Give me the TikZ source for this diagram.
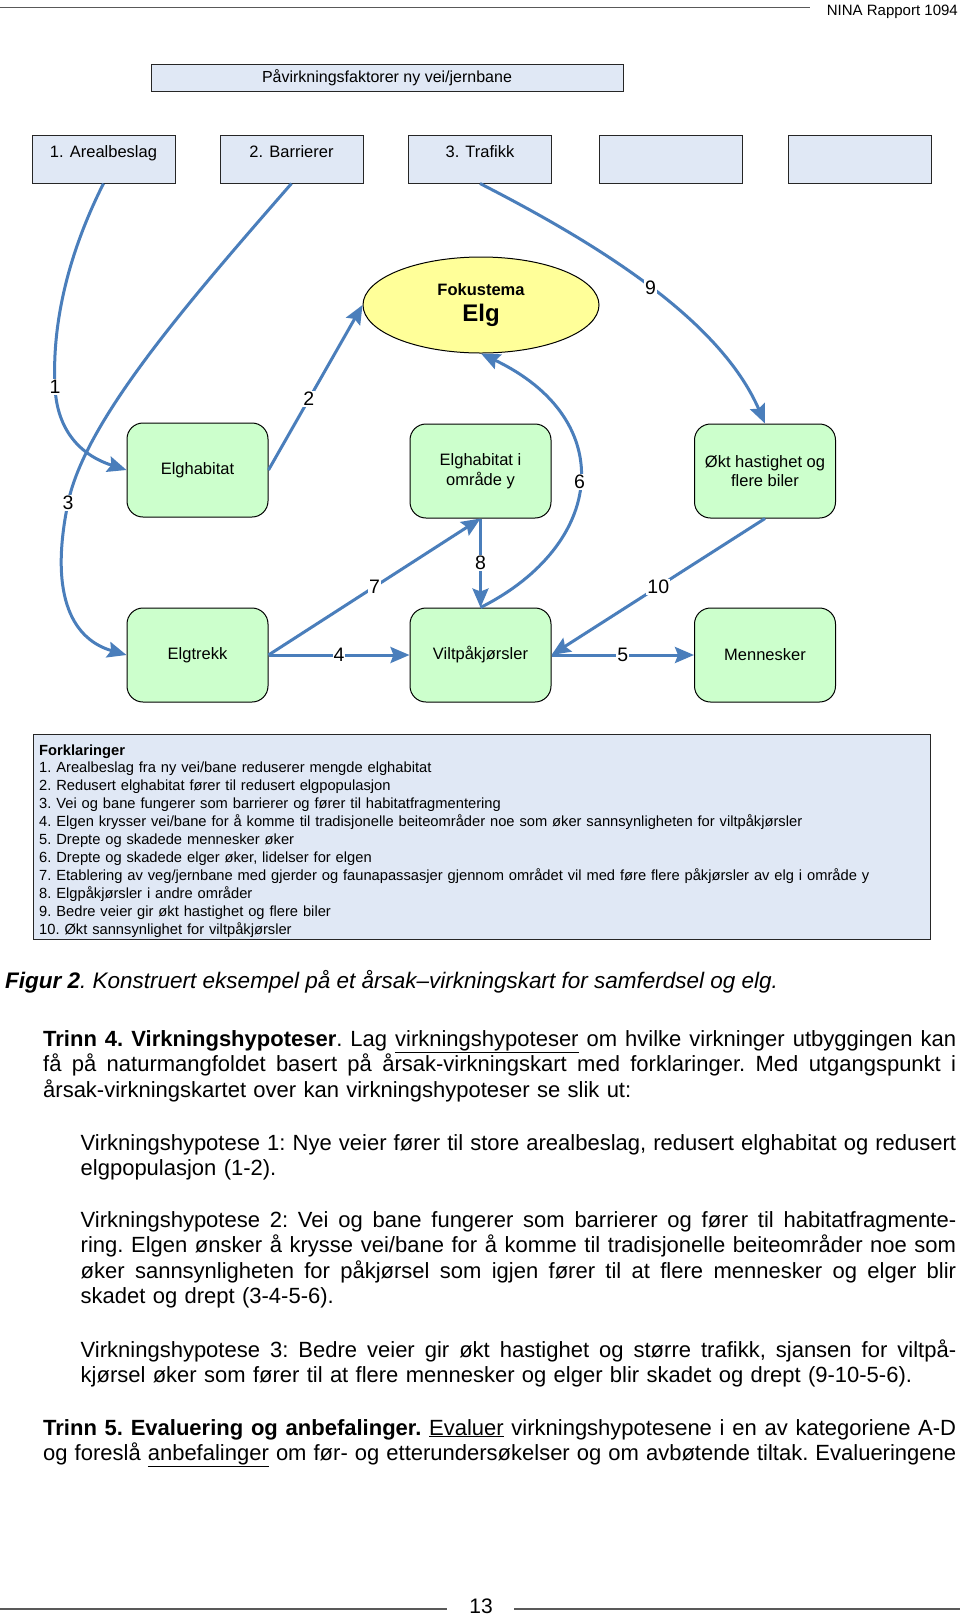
\documentclass[tikz,border=0pt]{standalone}
\usepackage{fontspec}
\setmainfont{Liberation Sans}
\usetikzlibrary{shapes.geometric,arrows.meta}

\definecolor{boxblue}{RGB}{224,232,245}
\definecolor{boxgreen}{RGB}{204,255,204}
\definecolor{boxyellow}{RGB}{255,255,153}
\definecolor{arrowblue}{RGB}{74,126,187}

\newcommand{\fs}[2]{\fontsize{#1}{#2}\selectfont}
\newcommand{\jl}[1]{\leavevmode\hbox to \hsize{\spaceskip=.28em plus .6em minus .12em\relax #1}}

\tikzset{
	topbox/.style={draw=black!85, line width=1pt, fill=boxblue, minimum width=143, minimum height=48, inner sep=0, text height=12pt, text depth=16pt, font=\fs{16.5}{19}},
	titlebox/.style={draw=black!85, line width=1pt, fill=boxblue, minimum width=472, minimum height=27, inner sep=0, font=\fs{16}{19}},
	effekt/.style={draw=black, line width=1pt, fill=boxgreen, rounded corners=16pt, minimum width=141, minimum height=94, inner sep=0, align=center, font=\fs{16.5}{19.5}},
	fokus/.style={draw=black, line width=1pt, fill=boxyellow, ellipse, minimum width=236, minimum height=96, inner sep=0, align=center, font=\fs{24}{26}\bfseries},
	legbox/.style={draw=black!85, line width=1pt, fill=boxblue, minimum width=897, minimum height=205, inner sep=0},
	pil/.style={draw=arrowblue, line width=3pt, -{Stealth[length=19pt,width=16pt,inset=3pt]}},
	elabel/.style={fill=white, inner sep=1pt, font=\fs{19.5}{19.5}},
	brod/.style={inner sep=0, align=left, font=\fs{22}{25.6}\frenchspacing},
	pagerule/.style={draw=black!65, line width=1.8pt},
}

\begin{document}
\begin{tikzpicture}[x=1pt,y=-1pt]
\useasboundingbox (0,0) rectangle (960,1618);
\fill[white] (0,0) rectangle (960,1618);

% topptekst
\node[anchor=base east, inner sep=0, font=\fs{15}{18}] (rapport) at (958,15) {NINA Rapport 1094};
\coordinate (hl) at (0,7.5);
\coordinate (hr) at (810,7.5);
\draw[pagerule] (hl) -- (hr);

% paavirkningsfaktorer
\node[titlebox] (faktorer) at (387,77.5) {Påvirkningsfaktorer ny vei/jernbane};
\node[topbox] (areal) at (103.5,159) {1. Arealbeslag};
\node[topbox] (barr) at (291.5,159) {2. Barrierer};
\node[topbox] (trafikk) at (480,159) {3. Trafikk};
\node[topbox] (tomfire) at (670.5,159) {};
\node[topbox] (tomfem) at (859.5,159) {};

% fokustema og effekter
\node[fokus] (elg) at (481,305) {{\fs{16.5}{20}Fokustema}\\Elg};
\node[effekt] (elghab) at (197.5,470) {Elghabitat};
\node[effekt] (elghaby) at (480.5,471) {Elghabitat i\\område y};
\node[effekt] (okt) at (765,471) {Økt hastighet og\\flere biler};
\node[effekt] (elgtrekk) at (197.5,655) {Elgtrekk};
\node[effekt] (vilt) at (480.5,655) {Viltpåkjørsler};
\node[effekt] (mennesker) at (765,655) {Mennesker};

% piler
\draw[pil] (areal.south) .. controls (65,260) and (52,330) .. (55,387) node[elabel] (lbl1) {1}
	.. controls (57,430) and (80,455) .. (elghab.west);
\draw[pil] (barr.south) .. controls (190,300) and (85,420) .. (68,503) node[elabel] (lbl3) {3}
	.. controls (48,600) and (75,640) .. (elgtrekk.west);
\draw[pil] (elghab.east) -- node[elabel, pos=0.43] (lbl2) {2} (elg.west);
\draw[pil] (elgtrekk.east) -- node[elabel] (lbl4) {4} (vilt.west);
\draw[pil] (vilt.east) -- node[elabel] (lbl5) {5} (mennesker.west);
\draw[pil] (vilt.north) .. controls (605,545) and (620,420) .. (elg.south) node[elabel, pos=0.5] (lbl6) {6};
\draw[pil] (elgtrekk.east) -- node[elabel] (lbl7) {7} (elghaby.south);
\draw[pil] (elghaby.south) -- node[elabel] (lbl8) {8} (vilt.north);
\draw[pil] (trafikk.south) .. controls (600,245) and (720,320) .. (okt.north) node[elabel, pos=0.5] (lbl9) {9};
\draw[pil] (okt.south) -- node[elabel] (lbl10) {10} (vilt.east);

% forklaringer
\node[legbox] (legend) at (481.5,836.5) {};
\node[anchor=base west, text width=885, align=left, inner sep=0, font=\fs{14.7}{17.9}\frenchspacing] (forkl) at (39,755) {\textbf{Forklaringer}\\
1. Arealbeslag fra ny vei/bane reduserer mengde elghabitat\\
2. Redusert elghabitat fører til redusert elgpopulasjon\\
3. Vei og bane fungerer som barrierer og fører til habitatfragmentering\\
4. Elgen krysser vei/bane for å komme til tradisjonelle beiteområder noe som øker sannsynligheten for viltpåkjørsler\\
5. Drepte og skadede mennesker øker\\
6. Drepte og skadede elger øker, lidelser for elgen\\
7. Etablering av veg/jernbane med gjerder og faunapassasjer gjennom området vil med føre flere påkjørsler av elg i område y\\
8. Elgpåkjørsler i andre områder\\
9. Bedre veier gir økt hastighet og flere biler\\
10. Økt sannsynlighet for viltpåkjørsler};

% figurtekst og brodtekst
\node[anchor=base west, inner sep=0, font=\fs{22.5}{26}\itshape\frenchspacing] (figtekst) at (5,988) {\textbf{Figur 2}. Konstruert eksempel på et årsak–virkningskart for samferdsel og elg.};

\node[brod, text width=913, anchor=base west] (trinnfire) at (43,1046) {\jl{\textbf{Trinn 4. Virkningshypoteser}. Lag \underline{virkningshypoteser} om hvilke virkninger utbyggingen kan}\\
\jl{få på naturmangfoldet basert på årsak-virkningskart med forklaringer. Med utgangspunkt i}\\
årsak-virkningskartet over kan virkningshypoteser se slik ut:};

\node[brod, text width=875.5, anchor=base west] (hypen) at (80.5,1150) {\jl{Virkningshypotese 1: Nye veier fører til store arealbeslag, redusert elghabitat og redusert}\\
elgpopulasjon (1-2).};

\node[brod, text width=875.5, anchor=base west] (hypto) at (80.5,1227) {\jl{Virkningshypotese 2: Vei og bane fungerer som barrierer og fører til habitatfragmente-}\\
\jl{ring. Elgen ønsker å krysse vei/bane for å komme til tradisjonelle beiteområder noe som}\\
\jl{øker sannsynligheten for påkjørsel som igjen fører til at flere mennesker og elger blir}\\
skadet og drept (3-4-5-6).};

\node[brod, text width=875.5, anchor=base west] (hyptre) at (80.5,1357) {\jl{Virkningshypotese 3: Bedre veier gir økt hastighet og større trafikk, sjansen for viltpå-}\\
kjørsel øker som fører til at flere mennesker og elger blir skadet og drept (9-10-5-6).};

\node[brod, text width=913, anchor=base west] (trinnfem) at (43,1435) {\jl{\textbf{Trinn 5. Evaluering og anbefalinger.} \underline{Evaluer} virkningshypotesene i en av kategoriene A-D}\\
\jl{og foreslå \underline{anbefalinger} om før- og etterundersøkelser og om avbøtende tiltak. Evalueringene}};

% bunntekst
\node[anchor=base, inner sep=0, font=\fs{21}{24}] (sidetall) at (481,1613) {13};
\coordinate (fl) at (0,1609);
\coordinate (flr) at (447,1609);
\coordinate (frl) at (514,1609);
\coordinate (fr) at (960,1609);
\draw[pagerule] (fl) -- (flr);
\draw[pagerule] (frl) -- (fr);
\end{tikzpicture}
\end{document}
